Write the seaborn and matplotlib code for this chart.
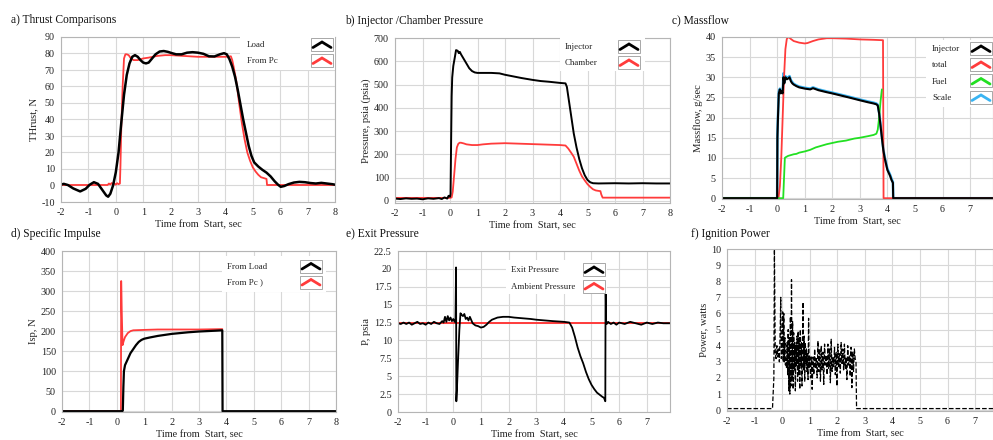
import numpy as np
import pandas as pd
import seaborn as sns
import matplotlib.pyplot as plt
from matplotlib.patches import Rectangle

# ---------------- data ----------------
# a) Thrust comparisons
a_t_load = [-2.0,-1.9,-1.75,-1.55,-1.3,-1.1,-0.95,-0.8,-0.65,-0.5,-0.35,-0.28,-0.2,-0.1,0.0,0.1,0.2,0.3,0.4,0.5,0.6,0.7,0.8,0.9,1.0,1.1,1.2,1.3,1.45,1.6,1.75,1.9,2.05,2.2,2.4,2.6,2.8,3.0,3.2,3.4,3.6,3.8,3.95,4.05,4.15,4.25,4.35,4.45,4.55,4.65,4.75,4.85,4.95,5.05,5.2,5.35,5.5,5.65,5.8,5.92,6.02,6.15,6.3,6.5,6.7,6.9,7.1,7.3,7.5,7.7,7.9,8.0]
a_load = [0.5,1.0,0.3,-1.8,-3.6,-2.0,0.5,2.0,1.0,-2.5,-6.0,-6.8,-5.0,0.0,8,20,38,55,67,74,78,79,78,76,74.5,74,74.5,76.5,79.5,81.2,81.5,81,80.2,79.5,79.5,80.5,80.8,80.5,79.8,78.3,78.2,79.5,80.2,79.5,76.5,72,66,58,49,40,32,24,18,14,11.5,9.5,7.8,5.5,2.5,0.5,-0.8,-0.3,0.8,1.8,2.2,2.0,1.5,1.2,1.6,1.2,0.8,0.5]
a_t_pc = [-2.0,-0.3,-0.25,-0.2,-0.15,-0.1,-0.05,0.0,0.05,0.1,0.15,0.17,0.2,0.25,0.3,0.35,0.4,0.47,0.55,0.65,0.8,1.0,1.2,1.5,1.8,2.0,2.5,3.0,3.5,4.0,4.2,4.25,4.3,4.4,4.5,4.6,4.7,4.8,4.9,5.0,5.1,5.2,5.3,5.4,5.5,5.52,8.0]
a_pc = [0.3,0.3,1.2,0.6,1.5,0.8,1.3,0.5,1.4,0.8,1.2,12,35,60,77,79.5,79.5,79,77,76,76,77,77.5,78.5,79,79,78.5,78,78,78,78.3,76,72,63,50,38,28,20,15,11,8.5,6.5,5,4.5,4,0.3,0.3]

# b) Injector / chamber pressure
b_t_inj = [-2.0,-1.8,-1.6,-1.4,-1.2,-1.0,-0.8,-0.6,-0.4,-0.3,-0.2,-0.1,-0.05,0.0,0.02,0.04,0.06,0.08,0.12,0.18,0.22,0.28,0.32,0.36,0.4,0.45,0.5,0.6,0.7,0.8,0.9,1.0,1.2,1.5,1.8,2.0,2.3,2.6,3.0,3.3,3.6,4.0,4.2,4.25,4.3,4.4,4.5,4.6,4.7,4.8,4.9,5.0,5.1,5.2,5.4,6.0,6.5,7.0,7.5,8.0]
b_inj = [10,8,11,9,10,7,11,9,12,8,15,10,22,18,30,250,450,530,580,620,648,645,635,640,630,620,610,590,570,558,552,550,550,550,548,542,535,528,520,515,512,507,505,490,450,370,290,230,180,140,110,90,80,76,75,76,75,76,75,75]
b_t_ch = [-2.0,0.0,0.06,0.1,0.15,0.2,0.25,0.3,0.35,0.4,0.5,0.6,0.8,1.0,1.2,1.5,2.0,2.5,3.0,3.5,4.0,4.2,4.3,4.4,4.5,4.6,4.7,4.8,4.9,5.0,5.1,5.2,5.3,5.4,5.47,5.5,5.55,8.0]
b_ch = [13,13,15,40,110,180,230,245,250,250,247,243,240,240,243,246,248,246,244,242,240,238,225,208,190,160,130,105,88,72,60,50,45,43,42,28,14,14]

# c) Massflow
c_t_inj = [-2.0,0.0,0.01,0.03,0.06,0.1,0.13,0.16,0.2,0.23,0.26,0.3,0.35,0.4,0.45,0.5,0.55,0.6,0.7,0.8,1.0,1.2,1.3,1.5,1.8,2.0,2.3,2.6,3.0,3.3,3.5,3.6,3.65,3.7,3.75,3.8,3.85,3.9,4.0,4.1,4.15,4.2,4.21,7.85]
c_inj = [0,0,15,20,26,27,26,26.5,26,30,28.5,30,29.5,29.7,30,29,28.5,28.2,27.8,27.5,27.2,27,27.3,26.8,26.3,26,25.5,25,24.3,23.8,23.5,23.3,23,21,18,15,12,10,7,5.5,4.5,3.8,0,0]
c_scale = [0,0,16,20.5,26.5,27.2,26.3,26.8,26.3,31,28.8,30.3,29.8,30.0,30.3,29.3,28.8,28.4,28.0,27.7,27.4,27.2,27.5,27.0,26.5,26.2,25.7,25.2,24.5,24.0,23.7,23.5,23.2,21.2,18.3,15.3,12.3,10.3,7.3,5.8,4.8,4.0,0,0]
c_t_tot = [-2.0,0.05,0.1,0.15,0.2,0.25,0.3,0.35,0.4,0.45,0.5,0.6,0.7,0.8,1.0,1.1,1.3,1.5,1.8,2.0,2.5,3.0,3.5,3.84,3.85,3.86,7.85]
c_tot = [0,0,3,10,20,30,37,39.5,40,39.8,39.5,39,38.8,38.6,38.4,38.5,39,39.4,39.7,39.7,39.6,39.4,39.3,39.2,20,0,0]
c_t_fuel = [-2.0,0.22,0.25,0.28,0.32,0.4,0.5,0.6,0.7,0.8,1.0,1.2,1.4,1.6,1.8,2.0,2.2,2.5,2.8,3.0,3.3,3.5,3.6,3.65,3.7,3.75,3.8]
c_fuel = [0,0,5,10,10.2,10.5,10.7,10.9,11.0,11.3,11.6,12.0,12.6,13.0,13.4,13.7,14.0,14.3,14.8,15.0,15.4,15.7,16,17,20,24,27]

# d) Specific impulse
d_t_load = [-2.0,0.2,0.22,0.24,0.26,0.3,0.4,0.5,0.6,0.7,0.8,0.9,1.0,1.2,1.5,1.8,2.0,2.3,2.6,3.0,3.3,3.6,3.85,3.86,8.0]
d_load = [0,0,2,60,100,115,130,145,155,165,173,178,181,184,188,191,193,195,197,199,200,201,202,0,0]
d_t_pc = [-2.0,0.15,0.16,0.18,0.21,0.25,0.3,0.4,0.5,0.6,1.0,1.5,2.0,3.0,3.85]
d_pc = [0,0,325,250,165,175,185,195,200,202,203,204,204,204,205]

# e) Exit pressure
e_t_exit = [-2.0,-1.9,-1.8,-1.7,-1.6,-1.5,-1.4,-1.3,-1.2,-1.1,-1.0,-0.9,-0.8,-0.7,-0.6,-0.5,-0.4,-0.35,-0.3,-0.25,-0.2,-0.15,-0.1,-0.05,0.0,0.05,0.08,0.1,0.11,0.13,0.17,0.22,0.26,0.3,0.35,0.4,0.45,0.5,0.55,0.6,0.7,0.8,0.9,1.0,1.1,1.2,1.3,1.4,1.6,1.8,2.0,2.2,2.5,2.8,3.0,3.3,3.6,4.0,4.2,4.3,4.4,4.5,4.6,4.7,4.8,4.9,5.0,5.1,5.2,5.3,5.4,5.45,5.5,5.51,5.53,5.55,5.6,5.7,5.8,5.9,6.0,6.2,6.4,6.6,6.8,7.0,7.2,7.4,7.6,7.85]
e_exit = [12.4,12.3,12.5,12.3,12.5,12.2,12.4,12.6,12.3,12.4,12.2,12.5,12.3,12.6,12.4,12.3,12.7,12.5,13.3,12.6,13.4,12.8,13.2,12.7,13.0,12.6,13.0,20.2,1.5,3.0,7.0,11.5,13.8,13.6,13.4,13.7,13.0,13.2,12.8,13.3,12.4,12.1,12.0,11.8,11.9,12.2,12.6,12.9,13.2,13.3,13.3,13.2,13.1,13.0,12.9,12.8,12.7,12.6,12.5,11.8,10.5,9.0,7.8,6.8,5.6,4.6,3.8,3.2,2.7,2.4,2.1,2.0,1.5,18.8,12.5,12.3,12.6,12.3,12.5,12.2,12.5,12.3,12.6,12.4,12.2,12.5,12.3,12.5,12.4,12.4]
e_t_amb = [-2.0, 7.85]
e_amb = [12.5, 12.5]

# f) Ignition power
f_t = [-2.0,-0.35,-0.3,-0.28,-0.25,-0.22,-0.19,-0.16,-0.13,-0.10,-0.07,-0.05,-0.03,0.00,0.02,0.04,0.06,0.08,0.10,0.12,0.14,0.16,0.18,0.20,0.22,0.24,0.26,0.28,0.30,0.32,0.34,0.36,0.38,0.40,0.42,0.44,0.46,0.48,0.50,0.52,0.54,0.56,0.58,0.60,0.62,0.64,0.66,0.68,0.70,0.72,0.74,0.76,0.78,0.80,0.82,0.84,0.86,0.88,0.90,0.92,0.94,0.96,0.98,1.00,1.03,1.06,1.09,1.12,1.15,1.18,1.21,1.24,1.27,1.30,1.33,1.36,1.39,1.42,1.45,1.48,1.51,1.54,1.57,1.60,1.63,1.66,1.69,1.72,1.75,1.78,1.81,1.84,1.87,1.90,1.93,1.96,1.99,2.02,2.05,2.08,2.11,2.14,2.17,2.20,2.23,2.26,2.29,2.32,2.35,2.38,2.41,2.44,2.47,2.50,2.53,2.56,2.59,2.62,2.65,2.68,2.70,7.65]
f_pow = [0.1,0.1,2.0,10.0,3.5,3.2,4.0,3.3,3.8,3.0,5.0,7.0,3.2,3.6,6.1,3.0,6.0,3.0,4.5,2.8,3.2,2.6,4.2,2.2,5.0,1.2,4.5,1.0,5.8,1.5,8.1,2.0,5.5,1.3,4.8,2.5,4.2,1.2,4.0,2.8,4.6,1.8,4.9,2.2,4.5,1.3,5.0,2.8,4.2,1.5,4.6,6.7,2.5,4.6,1.8,4.2,2.9,3.8,2.4,3.5,1.9,5.7,2.6,3.4,2.0,3.3,1.3,3.3,2.2,3.8,2.6,3.2,2.0,4.3,2.4,3.8,1.8,4.0,2.5,3.6,1.6,4.1,2.8,3.4,2.2,4.1,2.6,3.8,1.7,4.4,2.4,3.3,2.7,3.9,2.2,3.6,1.5,4.1,2.7,3.5,2.3,4.2,2.9,3.8,2.5,4.1,2.6,3.3,1.9,4.0,2.8,3.4,2.1,3.9,1.4,3.6,2.4,3.8,3.2,3.0,0.1,0.1]

# ---------------- style ----------------
sns.set_theme(style="whitegrid")
plt.rcParams['font.family'] = ['Liberation Serif', 'DejaVu Serif']
plt.rcParams['axes.unicode_minus'] = False

RED = '#ff3b3b'
GREEN = '#22e022'
BLUE = '#3ab4f2'
W, H = 993, 440

fig = plt.figure(figsize=(9.93, 4.4), dpi=100)
fig.patch.set_facecolor('white')

def make_ax(box):
    l, t, r, b = box
    return fig.add_axes([l / W, 1 - b / H, (r - l) / W, (b - t) / H])

def style(ax, xlim, ylim, xticks, yticks, ylabel, yfmt=None):
    ax.set_facecolor('white')
    ax.set_xlim(*xlim)
    ax.set_ylim(*ylim)
    ax.set_xticks(xticks)
    ax.set_yticks(yticks)
    if yfmt:
        ax.set_yticklabels([yfmt(v) for v in yticks])
    ax.grid(True, color='#d8d8d8', linewidth=0.8)
    for s in ax.spines.values():
        s.set_color('#b5b5b5')
        s.set_linewidth(0.8)
    ax.tick_params(direction='out', length=3, width=0.9, color='#333',
                   labelsize=7.3, pad=1.5, labelcolor='#222')
    ax.set_xlabel('Time from  Start, sec', fontsize=7.4, labelpad=2, color='#222')
    ax.set_ylabel(ylabel, fontsize=7.7, labelpad=2, color='#222')

def legend(ax, box, entries, xt, xh, ys, bg):
    l, t, r, b = box
    fx = lambda x: (x - l) / (r - l)
    fy = lambda y: (b - y) / (b - t)
    x0, y0, x1, y1 = bg
    ax.add_patch(Rectangle((fx(x0), fy(y1)), fx(x1) - fx(x0), fy(y0) - fy(y1),
                           transform=ax.transAxes, facecolor='white', edgecolor='none',
                           zorder=5, clip_on=False))
    for (label, color), y in zip(entries, ys):
        ax.text(fx(xt), fy(y), label, transform=ax.transAxes, fontsize=6.4,
                va='center', ha='left', zorder=6, color='#222')
        ax.add_patch(Rectangle((fx(xh - 11), fy(y + 6)), fx(xh + 11) - fx(xh - 11),
                               fy(y - 7) - fy(y + 6), transform=ax.transAxes,
                               facecolor='white', edgecolor='#9a9a9a', lw=0.6,
                               zorder=6, clip_on=False))
        ax.plot([fx(xh - 9), fx(xh), fx(xh + 9)], [fy(y + 2.5), fy(y - 3), fy(y + 2.5)],
                transform=ax.transAxes, color=color, lw=2.0, zorder=7, clip_on=False,
                solid_joinstyle='miter')

def line(ax, t, v, color, lw, **kw):
    sns.lineplot(x=t, y=v, ax=ax, color=color, linewidth=lw, sort=False,
                 estimator=None, legend=False, **kw)

ticks = lambda v: str(int(v)) if float(v).is_integer() else str(v)

# a)
A = (61, 37, 335, 202)
ax = make_ax(A)
line(ax, a_t_pc, a_pc, RED, 1.3)
line(ax, a_t_load, a_load, 'black', 1.8)
style(ax, (-2, 8), (-10, 90), range(-2, 9), range(-10, 91, 10), 'THrust, N')
legend(ax, A, [('Load', 'black'), ('From Pc', RED)], 247, 322, [45, 61], (240, 36, 335, 70))

# b)
B = (395, 38, 670, 203)
ax = make_ax(B)
line(ax, b_t_ch, b_ch, RED, 1.3)
line(ax, b_t_inj, b_inj, 'black', 1.4)
style(ax, (-2, 8), (-9, 700), range(-2, 9), range(0, 701, 100), 'Pressure, psia (psia)')
legend(ax, B, [('Injector', 'black'), ('Chamber', RED)], 565, 629, [47, 63], (560, 37, 645, 71))

# c)
C = (722, 37, 993, 199)
ax = make_ax(C)
line(ax, c_t_inj, c_scale, BLUE, 1.8)
line(ax, c_t_tot, c_tot, RED, 1.3)
line(ax, c_t_fuel, c_fuel, GREEN, 1.3)
line(ax, c_t_inj, c_inj, 'black', 1.5)
style(ax, (-2, 7.83), (-0.2, 40), range(-2, 8), range(0, 41, 5), 'Massflow, g/sec')
legend(ax, C, [('Injector', 'black'), ('total', RED), ('Fuel', GREEN), ('Scale', BLUE)],
       932, 981, [49, 65, 81.5, 98], (926, 40, 993, 107))

# d)
D = (62, 251, 336, 412)
ax = make_ax(D)
line(ax, d_t_pc, d_pc, RED, 1.3)
line(ax, d_t_load, d_load, 'black', 1.6)
style(ax, (-2, 8), (-2, 400), range(-2, 9), range(0, 401, 50), 'Isp, N')
legend(ax, D, [('From Load', 'black'), ('From Pc )', RED)], 227, 311, [266.5, 282.5], (222, 256, 326, 292))

# e)
E = (398, 251, 670, 412)
ax = make_ax(E)
line(ax, e_t_amb, e_amb, RED, 1.4)
line(ax, e_t_exit, e_exit, 'black', 1.3)
style(ax, (-2, 7.84), (0, 22.5), range(-2, 8), np.arange(0, 22.6, 2.5), 'P, psia', yfmt=ticks)
legend(ax, E, [('Exit Pressure', 'black'), ('Ambient Pressure', RED)], 511, 594, [270, 286.5], (506, 260, 607, 294))

# f)
F = (727, 249, 993, 411)
ax = make_ax(F)
line(ax, f_t, f_pow, 'black', 0.9, linestyle='--')
style(ax, (-2, 7.65), (-0.05, 10), range(-2, 8), range(0, 11, 1), 'Power, watts')

# panel titles
for x, y, s in [(11, 20, 'a) Thrust Comparisons'), (345, 21, 'b) Injector /Chamber Pressure'),
                (672, 20, 'c) Massflow'), (11, 234, 'd) Specific Impulse'),
                (346, 234, 'e) Exit Pressure'), (691, 234, 'f) Ignition Power')]:
    fig.text(x / W, 1 - y / H, s, fontsize=8.3, va='center', ha='left', color='#111')

fig.savefig('out.png', dpi=100, facecolor='white')
